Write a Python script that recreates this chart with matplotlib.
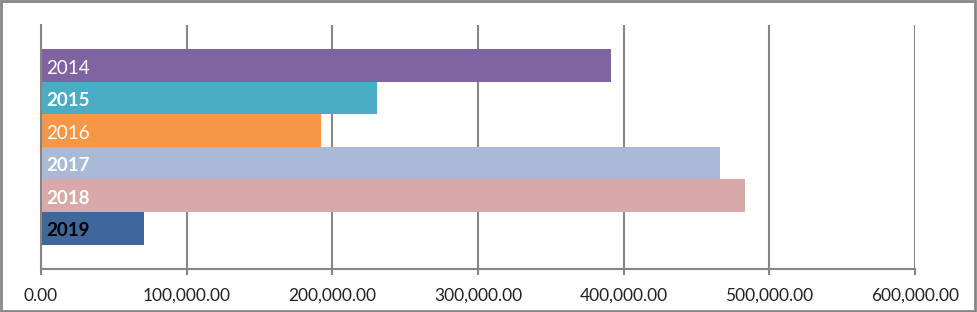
import matplotlib.pyplot as plt
import numpy as np

# data
years = ['2014', '2015', '2016', '2017', '2018', '2019']
values = [391300, 230700, 192200, 466100, 483300, 70700]
colors = ['#8064A2', '#4BACC6', '#F79646', '#A9B9D6', '#D9A9A9', '#3F679A']
label_colors = ['white', 'white', 'white', 'white', 'white', 'black']
label_weights = ['normal', 'bold', 'normal', 'bold', 'bold', 'bold']
ticks = [0, 100000, 200000, 300000, 400000, 500000, 600000]

plt.rcParams['font.family'] = ['Lato', 'DejaVu Sans']
grey = '#868686'

fig = plt.figure(figsize=(9.77, 3.12), dpi=100)
ax = fig.add_axes([0.042, 0.138, 0.8945, 0.782])

pos = np.arange(len(years))
ax.barh(pos, values, height=1.0, color=colors, zorder=2)

for i in range(len(years)):
    ax.annotate(years[i], xy=(0, pos[i]), xytext=(3.5, -1.8), textcoords='offset points',
                ha='left', va='center', fontsize=13.5, color=label_colors[i],
                fontweight=label_weights[i], zorder=3)

ax.set_xlim(0, 600000)
ax.set_ylim(6.25, -1.25)
ax.set_xticks(ticks)
ax.set_xticklabels(['{:,.2f}'.format(t) for t in ticks], fontsize=12.5, color='#222222')
ax.set_yticks([])
ax.xaxis.grid(True, color=grey, linewidth=1.5, zorder=0)
ax.tick_params(axis='x', direction='out', length=4.5, width=1.5, color=grey, pad=9)

for s in ['top', 'right']:
    ax.spines[s].set_visible(False)
for s in ['left', 'bottom']:
    ax.spines[s].set_color(grey)
    ax.spines[s].set_linewidth(1.5)

# outer frame
fig.patches.append(plt.Rectangle((0.001, 0.003), 0.997, 0.994, transform=fig.transFigure,
                                 fill=False, edgecolor=grey, linewidth=2))

fig.savefig('out.png', dpi=100)
